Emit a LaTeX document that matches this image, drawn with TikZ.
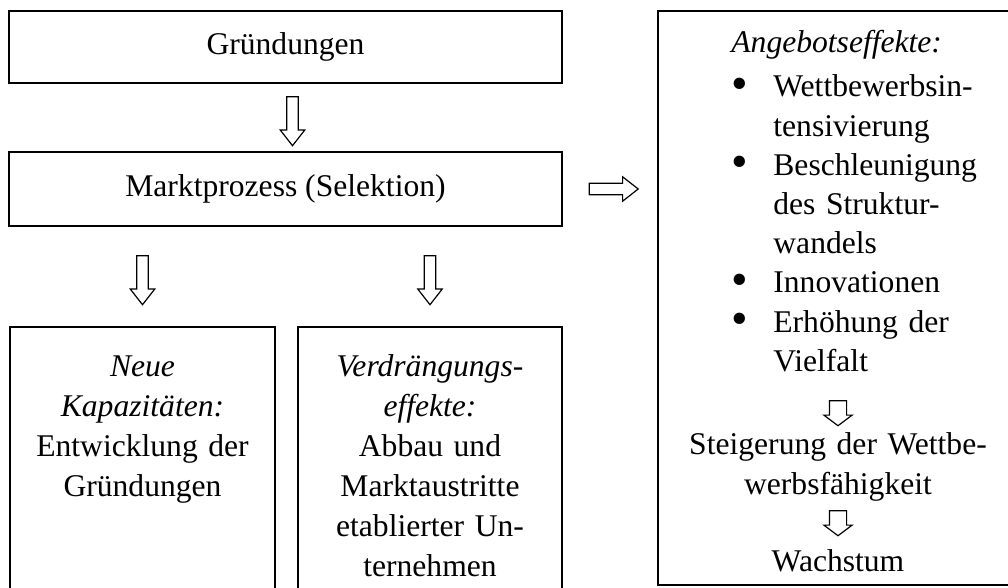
\documentclass[tikz,border=0pt]{standalone}
\usepackage{fontspec}
\setmainfont{Liberation Serif}
\usetikzlibrary{positioning, calc, shapes.arrows}

\tikzset{
  kasten/.style={draw, rectangle, line width=1pt, inner sep=0pt},
  txt/.style={font=\fontsize{15.8pt}{20pt}\selectfont, inner sep=0pt, align=center},
  blockpfeil/.style={draw, shape=single arrow, line width=0.6pt, fill=white,
    inner sep=2.6pt, minimum height=24.5pt, single arrow head extend=3.2pt,
    single arrow tip angle=76, single arrow head indent=0pt},
  kleinpfeil/.style={blockpfeil, inner sep=4pt, minimum height=12.5pt,
    single arrow head extend=2.75pt, single arrow tip angle=106},
}
\newcommand{\pkt}{\makebox[21pt][l]{\raisebox{-0.08em}{\scalebox{1.5}{\textbullet}}}}
\newcommand{\einr}{\hspace*{21pt}}

\begin{document}
\begin{tikzpicture}[x=0.5pt, y=-0.5pt]
\useasboundingbox (0,0) rectangle (1008,588);
% Kaesten
\node[kasten, txt, minimum width=276.5pt, minimum height=36pt] (grund) at (285.5,47) {Gründungen};
\node[kasten, txt, minimum width=276.5pt, minimum height=37pt] (markt) at (285.5,189) {Marktprozess (Selektion)};
\node[kasten, minimum width=132.5pt, minimum height=160pt] (neu) at (142.5,487) {};
\node[kasten, minimum width=132pt, minimum height=160pt] (verd) at (430,487) {};
\node[kasten, minimum width=180pt, minimum height=287pt] (angebot) at (838,298) {};
% Texte
\node[txt, text width=132pt, anchor=base] (neutxt) at (142.5,377)
  {\textit{Neue}\\\textit{Kapazitäten:}\\Entwicklung der\\Gründungen};
\node[txt, text width=132pt, anchor=base] (verdtxt) at (430,377)
  {\textit{Verdrängungs-}\\\textit{effekte:}\\Abbau und\\Marktaustritte\\etablierter Un-\\ternehmen};
\node[txt, anchor=base west] (kopf) at (731,53) {\textit{Angebotseffekte:}};
\node[txt, text width=140pt, align=left, anchor=base west,
  font=\fontsize{15.8pt}{19.6pt}\selectfont] (liste) at (731,97)
  {\pkt Wettbewerbsin-\\\einr tensivierung\\
   \pkt Beschleunigung\\\einr des Struktur-\\\einr wandels\\
   \pkt Innovationen\\
   \pkt Erhöhung der\\\einr Vielfalt};
\node[txt, text width=170pt, anchor=base] (steig) at (838,455) {Steigerung der Wettbe-\\werbsfähigkeit};
\node[txt, anchor=base] (wachs) at (838,572) {Wachstum};
% Pfeile
\node[blockpfeil, shape border rotate=270] (p1) at ($(grund.south)!0.5!(markt.north)+(7,0)$) {};
\node[blockpfeil, shape border rotate=270] (p2) at ($(neu.north)!0.5!(neu.north|-markt.south)$) {};
\node[blockpfeil, shape border rotate=270] (p3) at ($(verd.north)!0.5!(verd.north|-markt.south)$) {};
\node[blockpfeil] (p4) at ($(markt.east)!0.5!(angebot.west|-markt.east)$) {};
\node[kleinpfeil, shape border rotate=270] (p5) at (838,410) {};
\node[kleinpfeil, shape border rotate=270] (p6) at (838,520) {};
\end{tikzpicture}
\end{document}
